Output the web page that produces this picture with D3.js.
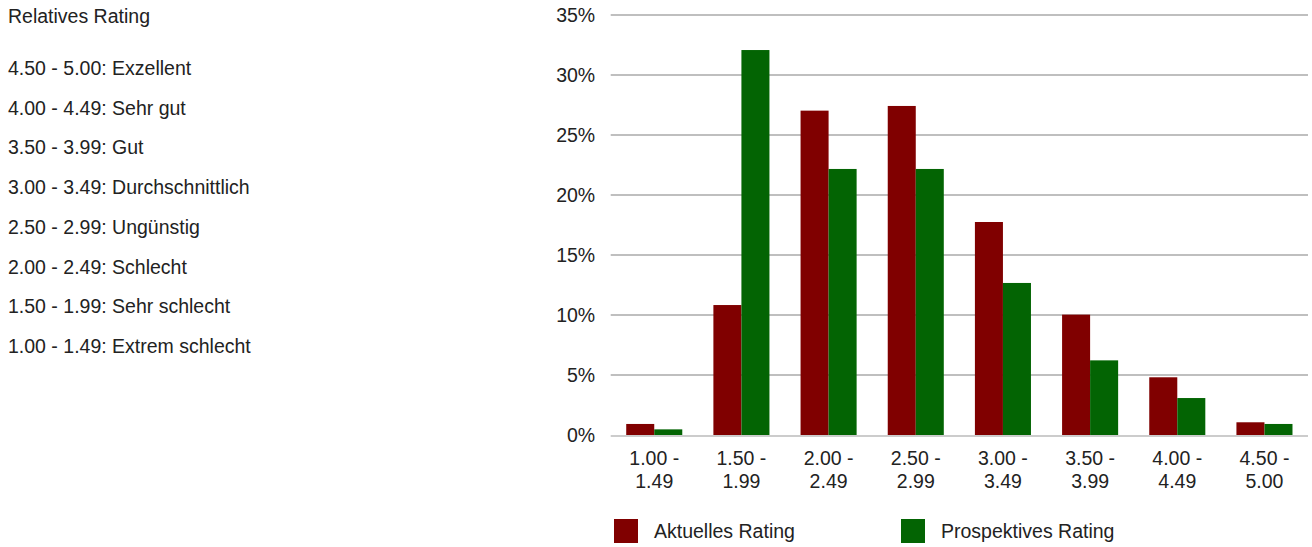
<!DOCTYPE html>
<html>
<head>
<meta charset="utf-8">
<script src="https://cdn.jsdelivr.net/npm/d3@7"></script>
<style>
  html, body { margin: 0; padding: 0; background: #fff; }
  svg { display: block; font-family: "Liberation Sans", Arial, sans-serif; }
</style>
</head>
<body>
<svg id="chart" width="1312" height="547"></svg>
<script>
// Rating bands (x categories), split over two lines per label
const categories = ["1.00 - 1.49", "1.50 - 1.99", "2.00 - 2.49", "2.50 - 2.99",
                    "3.00 - 3.49", "3.50 - 3.99", "4.00 - 4.49", "4.50 - 5.00"];
// Share per band, in percent
const currentRating     = [0.92, 10.83, 27.03, 27.42, 17.75, 10.03, 4.81, 1.06];
const prospectiveRating = [0.47, 32.08, 22.17, 22.17, 12.67, 6.22, 3.08, 0.92];
const seriesNames = ["Aktuelles Rating", "Prospektives Rating"];
const seriesColors = ["#800000", "#036403"];
const yTicks = [0, 5, 10, 15, 20, 25, 30, 35];
// Rating scale key on the left
const keyTitle = "Relatives Rating";
const keyItems = ["4.50 - 5.00: Exzellent", "4.00 - 4.49: Sehr gut", "3.50 - 3.99: Gut",
                  "3.00 - 3.49: Durchschnittlich", "2.50 - 2.99: Ungünstig",
                  "2.00 - 2.49: Schlecht", "1.50 - 1.99: Sehr schlecht",
                  "1.00 - 1.49: Extrem schlecht"];

const FONT = 19.5;
const TEXT = "#222";
const svg = d3.select("#chart");

// Left-hand key
const key = svg.append("g").attr("font-size", FONT).attr("fill", TEXT);
key.append("text").attr("x", 8).attr("y", 23).text(keyTitle);
key.selectAll("text.item").data(keyItems).join("text")
  .attr("class", "item")
  .attr("x", 8)
  .attr("y", (d, i) => 75 + i * 39.7)
  .text(d => d);

// Plot area
const plot = { left: 610.7, right: 1308, top: 15, bottom: 435 };

const x0 = d3.scaleBand().domain(categories)
  .range([plot.left, plot.right]).paddingInner(0.357).paddingOuter(0.178);
const x1 = d3.scaleBand().domain(seriesNames).range([0, x0.bandwidth()]);
const y = d3.scaleLinear().domain([0, 35]).range([plot.bottom, plot.top]);

// Gridlines
svg.append("g").selectAll("line").data(yTicks.filter(t => t > 0)).join("line")
  .attr("x1", plot.left).attr("x2", plot.right)
  .attr("y1", d => y(d)).attr("y2", d => y(d))
  .attr("stroke", "#aaaaaa").attr("stroke-width", 1.5);

// Y axis labels
const yAxis = svg.append("g")
  .attr("transform", `translate(${plot.left},0)`)
  .call(d3.axisLeft(y).tickValues(yTicks).tickFormat(d => d + "%").tickSize(0).tickPadding(15.5));
yAxis.select(".domain").remove();
yAxis.selectAll("text").attr("font-size", FONT).attr("fill", TEXT)
  .attr("font-family", "Liberation Sans, Arial, sans-serif");

// Bars
const rows = categories.map((c, i) => ({ cat: c, vals: [currentRating[i], prospectiveRating[i]] }));
const groups = svg.append("g").selectAll("g").data(rows).join("g")
  .attr("transform", d => `translate(${x0(d.cat)},0)`);
groups.selectAll("rect").data(d => d.vals.map((v, k) => ({ v, k }))).join("rect")
  .attr("x", d => x1(seriesNames[d.k]))
  .attr("width", x1.bandwidth())
  .attr("y", d => y(d.v))
  .attr("height", d => y(0) - y(d.v))
  .attr("fill", d => seriesColors[d.k]);

// Baseline
svg.append("line")
  .attr("x1", plot.left).attr("x2", plot.right)
  .attr("y1", y(0) + 1).attr("y2", y(0) + 1)
  .attr("stroke", "#cccccc").attr("stroke-width", 2);

// X axis labels (two lines)
const xAxis = svg.append("g")
  .attr("transform", `translate(0,${plot.bottom})`)
  .call(d3.axisBottom(x0).tickSize(0).tickFormat(""));
xAxis.select(".domain").remove();
xAxis.selectAll(".tick").each(function(d) {
  const parts = d.split(" - ");
  const t = d3.select(this).append("text")
    .attr("fill", TEXT).attr("font-size", FONT).attr("text-anchor", "middle")
    .attr("font-family", "Liberation Sans, Arial, sans-serif");
  t.append("tspan").attr("x", 0).attr("y", 30).text(parts[0] + " -");
  t.append("tspan").attr("x", 0).attr("y", 52.5).text(parts[1]);
});

// Legend
const legendX = [614, 901];
const legend = svg.append("g").selectAll("g").data(seriesNames).join("g")
  .attr("transform", (d, i) => `translate(${legendX[i]},519)`);
legend.append("rect").attr("width", 24).attr("height", 24)
  .attr("fill", (d, i) => seriesColors[i]);
legend.append("text").attr("x", 40).attr("y", 19)
  .attr("font-size", FONT).attr("fill", TEXT).text(d => d);
</script>
</body>
</html>
